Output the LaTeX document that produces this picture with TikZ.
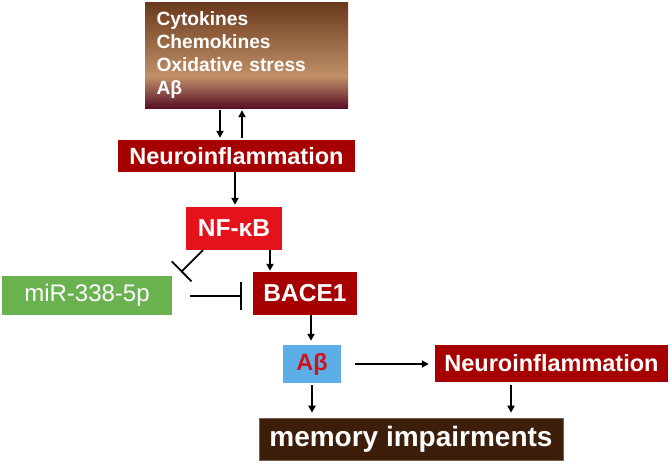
\documentclass[tikz,border=0pt]{standalone}
\usepackage{fontspec}
\setmainfont{Liberation Sans}
\usetikzlibrary{arrows.meta}
\definecolor{topbrown}{HTML}{6A391D}
\definecolor{midtan}{HTML}{C09068}
\definecolor{botmaroon}{HTML}{5A1026}
\definecolor{darkred}{HTML}{A60000}
\definecolor{brightred}{HTML}{E3121B}
\definecolor{mirgreen}{HTML}{6AB150}
\definecolor{abblue}{HTML}{5DADE6}
\definecolor{abred}{HTML}{D0121B}
\definecolor{memb}{HTML}{3D1E0A}
\pgfdeclareverticalshading{topshade}{100bp}{color(0bp)=(botmaroon); color(25bp)=(botmaroon); color(40bp)=(midtan); color(75bp)=(topbrown); color(100bp)=(topbrown)}
\newcommand{\fs}[1]{\fontsize{#1}{#1}\selectfont}
\tikzset{
  boxbase/.style={rectangle, inner sep=0pt, text=white, font=\bfseries},
  darkbox/.style={boxbase, fill=darkred},
  arr/.style={line width=1.8pt, -{Triangle[length=7pt,width=7pt]}},
  inh/.style={line width=1.8pt, -{Bar[width=28pt,line width=1.8pt]}},
}
\begin{document}
\begin{tikzpicture}[x=1pt,y=-1pt]
\useasboundingbox (0,0) rectangle (670,463);
\node[boxbase, shading=topshade, minimum width=203pt, minimum height=106pt, text width=180pt, align=left, font=\bfseries\fontsize{19.2}{23.3}\selectfont] (top) at (246.5,55) {Cytokines\\Chemokines\\Oxidative stress\\Aβ};
\node[darkbox, minimum width=237pt, minimum height=32pt, font=\bfseries\fs{23.5}] (neuro1) at (236.5,156) {Neuroinflammation};
\node[boxbase, fill=brightred, minimum width=96pt, minimum height=43pt, font=\bfseries\fs{24.5}] (nf) at (234,228.5) {NF-κB};
\node[darkbox, minimum width=104pt, minimum height=43pt, font=\bfseries\fs{24.5}] (bace) at (305,293.5) {BACE1};
\node[boxbase, fill=mirgreen, minimum width=170pt, minimum height=39pt, font=\fs{24}] (mir) at (87,295) {miR-338-5p};
\node[boxbase, fill=abblue, minimum width=58pt, minimum height=38pt, text=abred, font=\bfseries\fs{23.5}] (ab) at (312,364) {Aβ};
\node[darkbox, minimum width=233pt, minimum height=37pt, font=\bfseries\fs{23.5}] (neuro2) at (551.5,363.5) {Neuroinflammation};
\node[boxbase, fill=memb, draw=memb!70!white, line width=0.6pt, minimum width=304pt, minimum height=42pt, font=\bfseries\fs{28}] (mem) at (411,439) {memory impairments};
\coordinate (nfinh) at (181,272);
% arrows
\draw[arr, shorten <=2pt, shorten >=2pt] (top.south -| 220,0) -- (neuro1.north -| 220,0);
\draw[arr, shorten <=2pt, shorten >=2pt] (neuro1.north -| 242,0) -- (top.south -| 242,0);
\draw[arr, shorten >=2pt] (neuro1.south -| 235,0) -- (nf.north -| 235,0);
\draw[arr, shorten >=1pt] (nf.south -| 270,0) -- (bace.north -| 270,0);
\draw[arr, shorten >=4pt] (bace.south -| 311,0) -- (ab.north -| 311,0);
\draw[arr, shorten <=14pt, shorten >=6pt] (ab.east) -- (neuro2.west |- ab.east);
\draw[arr, shorten <=2pt, shorten >=5pt] (ab.south -| 312,0) -- (mem.north -| 312,0);
\draw[arr, shorten <=3pt, shorten >=5pt] (neuro2.south -| 511,0) -- (mem.north -| 511,0);
% inhibitions
\draw[inh] (nf.south -| 203,0) -- (nfinh);
\draw[inh, shorten <=18pt, shorten >=11pt] (mir.east |- 0,296) -- (bace.west |- 0,296);
\end{tikzpicture}
\end{document}
